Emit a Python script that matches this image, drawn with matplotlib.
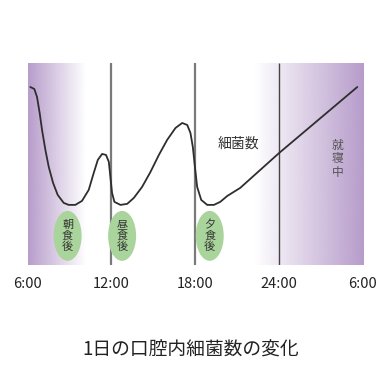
import numpy as np
import matplotlib.pyplot as plt
from matplotlib.patches import Ellipse
from matplotlib.colors import to_rgb

plt.rcParams['font.family'] = ['Noto Sans CJK JP', 'DejaVu Sans']

# time of day (hours, 30 = 6:00 next morning) and relative bacteria count
hours = [6.20, 6.49, 6.68, 6.87, 7.04, 7.28, 7.52, 7.83, 8.16, 8.59, 8.95,
         9.42, 9.90, 10.38, 10.74, 11.03, 11.34, 11.62, 11.82, 11.93, 12.05,
         12.22, 12.65, 13.13, 13.61, 14.20, 14.80, 15.40, 15.99, 16.59, 17.07,
         17.43, 17.66, 17.83, 17.98, 18.14, 18.43, 18.86, 19.34, 19.79, 20.30,
         21.22, 24.01, 29.60]
count = [176, 174, 166, 150, 133, 113, 96, 80, 68, 60, 58,
         58, 62, 73, 90, 103, 109, 108, 101, 86, 70,
         61, 58, 59, 65, 76, 91, 108, 123, 135, 140,
         138, 130, 116, 96, 76, 63, 58, 58, 61, 67,
         75, 110, 176]

tick_hours = [6, 12, 18, 24, 30]
tick_labels = ['6:00', '12:00', '18:00', '24:00', '6:00']

meal_hours = [8.87, 12.77, 19.04]
meal_labels = ['朝食後', '昼食後', '夕食後']

purple = '#b79ccb'
green = '#a9d49b'

fig = plt.figure(figsize=(3.82, 3.73), dpi=100)
ax = fig.add_axes([0.072, 0.290, 0.878, 0.541])
ax.set_xlim(6, 30)
ax.set_ylim(-2, 200)


def band(x0, x1, fade_right):
    # purple strip that fades to white
    n = 256
    rgba = np.zeros((1, n, 4))
    rgba[..., :3] = to_rgb(purple)
    a = np.linspace(1, 0, n)
    rgba[..., 3] = a if fade_right else a[::-1]
    ax.imshow(rgba, extent=[x0, x1, -2, 200], aspect='auto', zorder=0,
              interpolation='bilinear')


band(6, 10.1, True)
band(22.2, 30, False)

ax.vlines([12, 18], -2, 200, color='#7a7a7a', lw=1.6, zorder=1)
ax.vlines([24], -2, 200, color='#444444', lw=1.0, zorder=1)

ax.plot(hours, count, color='#2e2e2e', lw=1.3, zorder=3,
        solid_capstyle='round', solid_joinstyle='round')

for h, lab in zip(meal_hours, meal_labels):
    ax.add_patch(Ellipse((h, 27), 2.0, 50, facecolor=green, edgecolor='none',
                         zorder=2))
    ax.text(h, 27, '\n'.join(lab), ha='center', va='center', fontsize=8,
            linespacing=1.05, color='#333333', zorder=4)

ax.text(21.09, 119, '細菌数', ha='center', va='center', fontsize=10,
        color='#333333')
ax.text(28.17, 104, '\n'.join('就寝中'), ha='center', va='center',
        fontsize=8.5, linespacing=1.05, color='#555555')

ax.set_xticks(tick_hours)
ax.set_xticklabels(tick_labels, fontsize=10.5, color='#222222')
ax.tick_params(axis='x', length=0, pad=9)
ax.set_yticks([])
for s in ax.spines.values():
    s.set_visible(False)

fig.text(0.5, 1 - 350 / 373, '1日の口腔内細菌数の変化', ha='center',
         va='center', fontsize=13.5, color='#222222')

fig.savefig('out.png', dpi=100)
